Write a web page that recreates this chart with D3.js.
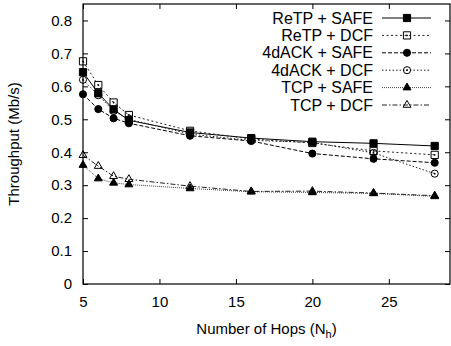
<!DOCTYPE html>
<html>
<head>
<meta charset="utf-8">
<script src="https://cdn.jsdelivr.net/npm/d3@7"></script>
<style>
  body { margin: 0; background: #fff; }
  svg text { font-family: "Liberation Sans", Arial, sans-serif; fill: #000; }
</style>
</head>
<body>
<div id="chart"></div>
<script>
// data
var hops = [5, 6, 7, 8, 12, 16, 20, 24, 28];
var xTicks = [5, 10, 15, 20, 25];
var yTicks = [0, 0.1, 0.2, 0.3, 0.4, 0.5, 0.6, 0.7, 0.8];

var seriesNames = ['ReTP + SAFE', 'ReTP + DCF', '4dACK + SAFE', '4dACK + DCF', 'TCP + SAFE', 'TCP + DCF'];
var retpSafe = [0.643, 0.579, 0.530, 0.497, 0.460, 0.443, 0.432, 0.427, 0.419];
var retpDcf  = [0.676, 0.604, 0.551, 0.513, 0.465, 0.440, 0.428, 0.404, 0.392];
var ackSafe  = [0.576, 0.531, 0.503, 0.488, 0.450, 0.434, 0.396, 0.380, 0.368];
var ackDcf   = [0.620, 0.573, 0.525, 0.500, 0.455, 0.436, 0.430, 0.398, 0.335];
var tcpSafe  = [0.361, 0.320, 0.307, 0.302, 0.290, 0.280, 0.278, 0.275, 0.266];
var tcpDcf   = [0.391, 0.358, 0.327, 0.318, 0.297, 0.281, 0.282, 0.276, 0.268];

var width = 451, height = 346;
var pLeft = 83, pRight = 450, pTop = 4, pBottom = 284;

// styles per series (dash, marker, filled) - open marks are outlines only
var styles = [
  { dash: null,        sym: d3.symbolSquare,   size: 52, filled: true,  dot: false, color: '#000' },
  { dash: '2,2.5',     sym: d3.symbolSquare,   size: 52, filled: false, dot: true,  color: '#222' },
  { dash: '4,2',       sym: d3.symbolCircle,   size: 40, filled: true,  dot: false, color: '#000' },
  { dash: '1.5,2',     sym: d3.symbolCircle,   size: 40, filled: false, dot: true,  color: '#222' },
  { dash: '1,1',       sym: d3.symbolTriangle, size: 27, filled: true,  dot: false, color: '#444' },
  { dash: '5,2,1.5,2', sym: d3.symbolTriangle, size: 27, filled: false, dot: false, color: '#222' }
];
var allSeries = [retpSafe, retpDcf, ackSafe, ackDcf, tcpSafe, tcpDcf];

var svg = d3.select('#chart').append('svg')
  .attr('width', width)
  .attr('height', height);

var x = d3.scaleLinear().domain([5, 29]).range([pLeft, pRight]);
var y = d3.scaleLinear().domain([0, 0.85]).range([pBottom, pTop]);

// ticks on all four sides, pointing inward
var tickLen = 5;
svg.append('g')
  .attr('transform', 'translate(0,' + pBottom + ')')
  .call(d3.axisBottom(x).tickValues(xTicks).tickSize(-tickLen).tickPadding(12).tickFormat(d3.format('d')))
  .call(g => g.select('.domain').remove())
  .selectAll('text').style('font-size', '15px');
svg.append('g')
  .attr('transform', 'translate(0,' + pTop + ')')
  .call(d3.axisTop(x).tickValues(xTicks).tickSize(-tickLen).tickFormat(''))
  .call(g => g.select('.domain').remove());
svg.append('g')
  .attr('transform', 'translate(' + pLeft + ',0)')
  .call(d3.axisLeft(y).tickValues(yTicks).tickSize(-tickLen).tickPadding(11)
    .tickFormat(d => d === 0 ? '0' : d3.format('.1f')(d)))
  .call(g => g.select('.domain').remove())
  .selectAll('text').style('font-size', '15px');
svg.append('g')
  .attr('transform', 'translate(' + pRight + ',0)')
  .call(d3.axisRight(y).tickValues(yTicks).tickSize(-tickLen).tickFormat(''))
  .call(g => g.select('.domain').remove());

svg.append('rect')
  .attr('x', pLeft).attr('y', pTop)
  .attr('width', pRight - pLeft).attr('height', pBottom - pTop)
  .attr('fill', 'none').attr('stroke', '#000').attr('stroke-width', 1.2);

// axis titles
var xl = svg.append('text')
  .attr('x', (pLeft + pRight) / 2)
  .attr('y', 334)
  .attr('text-anchor', 'middle')
  .style('font-size', '15px');
xl.append('tspan').text('Number of Hops (N');
xl.append('tspan').attr('dy', 4).style('font-size', '11px').text('h');
xl.append('tspan').attr('dy', -4).text(')');

svg.append('text')
  .attr('transform', 'translate(19,' + (pTop + pBottom) / 2 + ') rotate(-90)')
  .attr('text-anchor', 'middle')
  .style('font-size', '15px')
  .text('Throughput (Mb/s)');

function drawMarker(g, st, cx, cy) {
  g.append('path')
    .attr('d', d3.symbol().type(st.sym).size(st.size)())
    .attr('transform', 'translate(' + cx + ',' + cy + ')')
    .attr('fill', st.filled ? '#000' : 'none')
    .attr('stroke', '#000')
    .attr('stroke-width', 1);
  if (st.dot) {
    g.append('circle').attr('cx', cx).attr('cy', cy).attr('r', 0.9).attr('fill', '#000');
  }
}

var line = d3.line().x(d => x(d[0])).y(d => y(d[1]));

allSeries.forEach(function(vals, i) {
  var st = styles[i];
  var pts = hops.map((h, j) => [h, vals[j]]);
  var g = svg.append('g');
  g.append('path')
    .datum(pts)
    .attr('d', line)
    .attr('fill', 'none')
    .attr('stroke', st.color)
    .attr('stroke-width', 1)
    .attr('stroke-dasharray', st.dash);
  pts.forEach(p => drawMarker(g, st, x(p[0]), y(p[1])));
});

// legend
var lg = svg.append('g');
seriesNames.forEach(function(name, i) {
  var st = styles[i];
  var ly = 18 + i * 17.4;
  lg.append('text')
    .attr('x', 373)
    .attr('y', ly)
    .attr('dy', '0.35em')
    .attr('text-anchor', 'end')
    .style('font-size', '16px')
    .text(name);
  lg.append('line')
    .attr('x1', 382).attr('x2', 431)
    .attr('y1', ly).attr('y2', ly)
    .attr('stroke', st.color)
    .attr('stroke-width', 1)
    .attr('stroke-dasharray', st.dash);
  drawMarker(lg, st, 407, ly);
});
</script>
</body>
</html>
